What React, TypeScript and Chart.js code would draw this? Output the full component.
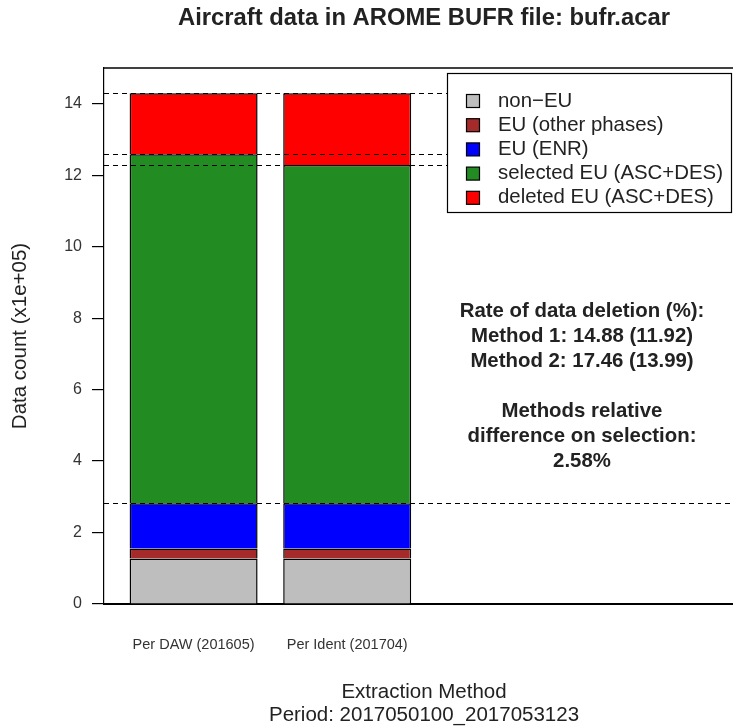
import React, { useEffect, useRef } from "react";
import { Chart, registerables } from "chart.js";

Chart.register(...registerables);

// Extraction methods (one stacked bar each)
const CATEGORIES = ["Per DAW (201605)", "Per Ident (201704)"];

// Stacked components, bottom to top (data count in units of 1e+05)
const SERIES_NAMES = [
  "non\u2212EU",
  "EU (other phases)",
  "EU (ENR)",
  "selected EU (ASC+DES)",
  "deleted EU (ASC+DES)",
];
const NON_EU = [1.27, 1.27];
const EU_OTHER = [0.285, 0.285];
const EU_ENR = [1.265, 1.265];
const SELECTED_EU = [9.763, 9.467];
const DELETED_EU = [1.707, 2.003];
const SERIES_VALUES = [NON_EU, EU_OTHER, EU_ENR, SELECTED_EU, DELETED_EU];
const SERIES_COLORS = ["#BEBEBE", "#A52A2A", "#0000FF", "#228B22", "#FF0000"];

const Y_TICKS = [0, 2, 4, 6, 8, 10, 12, 14];
const Y_MAX = 15;
const X_MAX = 5;
const BAR_SPACE = 0.2; // gap between bars, as a fraction of bar width

const TITLE = "Aircraft data in AROME BUFR file: bufr.acar";
const Y_TITLE = "Data count (x1e+05)";
const X_TITLE = "Extraction Method";
const PERIOD = "Period: 2017050100_2017053123";
const STATS_LINES = [
  "Rate of data deletion (%):",
  "Method 1: 14.88 (11.92)",
  "Method 2: 17.46 (13.99)",
  "",
  "Methods relative",
  "difference on selection:",
  "2.58%",
];

const FONT = "'Liberation Sans', Arial, Helvetica, sans-serif";
const TEXT = "#222";

const barCenter = (i: number) => BAR_SPACE + i * (1 + BAR_SPACE) + 0.5;

// cumulative stack heights per bar
const cumulative = (upTo: number, bar: number) =>
  SERIES_VALUES.slice(0, upTo + 1).reduce((s, arr) => s + arr[bar], 0);

// reference levels: top of ENR, top of selected for each method, total
const DASH_LEVELS = [
  cumulative(2, 0),
  cumulative(3, 0),
  cumulative(3, 1),
  cumulative(4, 0),
];

const decorations = {
  id: "decorations",
  afterDatasetsDraw(chart: any) {
    const { ctx, chartArea, scales } = chart;
    const y = scales.y;
    ctx.save();
    ctx.strokeStyle = "#000";
    ctx.lineWidth = 1.2;
    ctx.setLineDash([5, 4]);
    for (const lvl of DASH_LEVELS) {
      const py = Math.round(y.getPixelForValue(lvl)) + 0.5;
      ctx.beginPath();
      ctx.moveTo(chartArea.left, py);
      ctx.lineTo(chartArea.right, py);
      ctx.stroke();
    }
    ctx.setLineDash([]);
    ctx.lineWidth = 1.5;
    ctx.beginPath();
    ctx.moveTo(chartArea.left, chartArea.top);
    ctx.lineTo(chartArea.right, chartArea.top);
    ctx.stroke();
    ctx.restore();
  },
  afterDraw(chart: any) {
    const { ctx, chartArea } = chart;
    const cx = (chartArea.left + chartArea.right) / 2;
    ctx.save();
    ctx.fillStyle = TEXT;
    ctx.textBaseline = "middle";
    ctx.textAlign = "center";

    // title
    ctx.font = `bold 23.8px ${FONT}`;
    ctx.fillText(TITLE, cx, 18);

    // x titles
    ctx.font = `20.5px ${FONT}`;
    ctx.fillText(X_TITLE, cx, 692);
    ctx.fillText(PERIOD, cx, 715);

    // y title
    ctx.save();
    ctx.translate(20, (chartArea.top + chartArea.bottom) / 2);
    ctx.rotate(-Math.PI / 2);
    ctx.fillText(Y_TITLE, 0, 0);
    ctx.restore();

    // statistics text
    ctx.font = `bold 20.4px ${FONT}`;
    STATS_LINES.forEach((line, i) => {
      if (line) ctx.fillText(line, 582, 311 + i * 25);
    });

    // legend (opaque box over the reference lines)
    ctx.fillStyle = "#fff";
    ctx.fillRect(447.5, 73.5, 284, 139);
    ctx.strokeStyle = "#000";
    ctx.lineWidth = 1.2;
    ctx.strokeRect(447.5, 73.5, 284, 139);
    ctx.font = `20.4px ${FONT}`;
    ctx.textAlign = "left";
    SERIES_NAMES.forEach((name, i) => {
      const ry = 101 + i * 24.2;
      ctx.fillStyle = SERIES_COLORS[i];
      ctx.fillRect(466.5, ry - 6.5, 13, 13);
      ctx.strokeRect(466.5, ry - 6.5, 13, 13);
      ctx.fillStyle = TEXT;
      ctx.fillText(name, 498, ry);
    });
    ctx.restore();
  },
};

export default function App() {
  const ref = useRef<HTMLCanvasElement>(null);

  useEffect(() => {
    const chart = new Chart(ref.current!, {
      type: "bar",
      data: {
        datasets: SERIES_NAMES.map((name, s) => ({
          label: name,
          data: SERIES_VALUES[s].map((v, i) => ({ x: barCenter(i), y: v })),
          backgroundColor: SERIES_COLORS[s],
          borderColor: "#000",
          borderWidth: 1.5,
          barPercentage: 1 / (1 + BAR_SPACE),
          categoryPercentage: 1,
        })),
      },
      options: {
        responsive: false,
        animation: false,
        devicePixelRatio: 1,
        layout: { padding: { top: 68, right: 1, left: 0, bottom: 0 } },
        plugins: {
          legend: { display: false },
          tooltip: { enabled: false },
          title: { display: false },
        },
        scales: {
          x: {
            type: "linear",
            stacked: true,
            offset: false,
            min: 0,
            max: X_MAX,
            afterBuildTicks: (scale: any) => {
              scale.ticks = CATEGORIES.map((_, i) => ({ value: barCenter(i) }));
            },
            afterFit: (scale: any) => {
              scale.height = 123;
            },
            ticks: {
              autoSkip: false,
              maxRotation: 0,
              padding: 32,
              color: "#333",
              font: { family: FONT, size: 14.5 },
              callback: (_v: any, i: number) => CATEGORIES[i],
            },
            grid: { display: false, drawTicks: false, offset: false },
            border: { display: true, color: "#000", width: 2 },
          },
          y: {
            stacked: true,
            min: 0,
            max: Y_MAX,
            afterBuildTicks: (scale: any) => {
              scale.ticks = Y_TICKS.map((v) => ({ value: v }));
            },
            afterFit: (scale: any) => {
              scale.width = 104;
            },
            ticks: {
              padding: 10,
              color: "#333",
              font: { family: FONT, size: 16 },
            },
            grid: {
              display: true,
              drawOnChartArea: false,
              drawTicks: true,
              tickLength: 12,
              color: "#000",
              lineWidth: 1.2,
            },
            border: { display: true, color: "#000", width: 1.2 },
          },
        },
      },
      plugins: [decorations],
    } as any);
    return () => chart.destroy();
  }, []);

  return (
    <div
      style={{
        position: "absolute",
        left: 0,
        top: 0,
        width: 733,
        height: 727,
        overflow: "hidden",
        background: "#fff",
      }}
    >
      <canvas ref={ref} width={745} height={727} style={{ display: "block" }} />
    </div>
  );
}
